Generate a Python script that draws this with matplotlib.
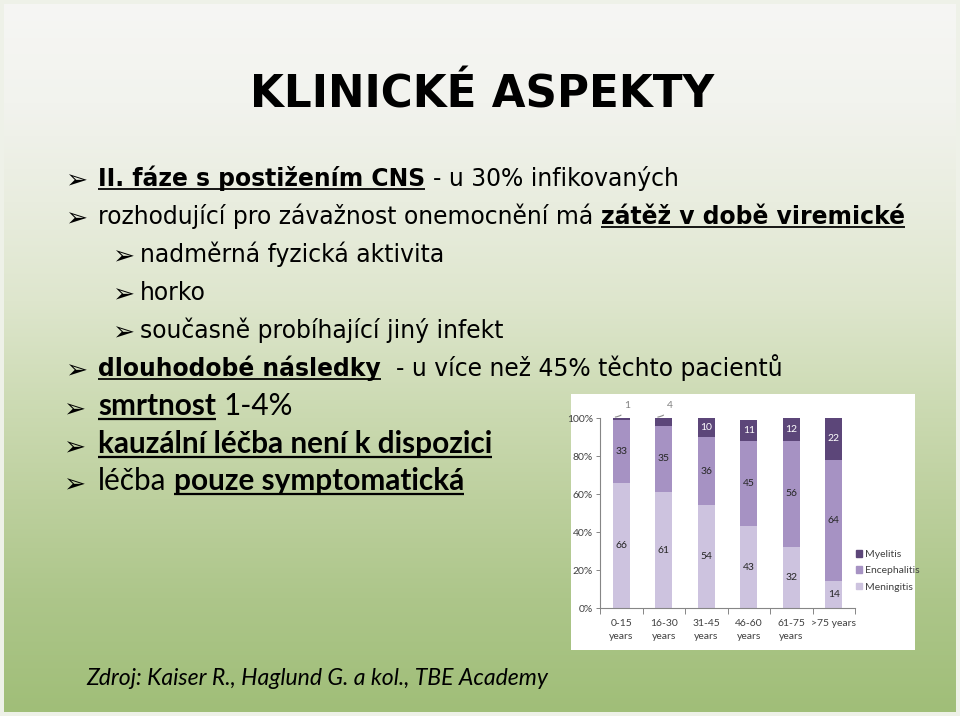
import numpy as np
import matplotlib
matplotlib.use('Agg')
import matplotlib.pyplot as plt
from matplotlib import font_manager
from matplotlib.patches import Rectangle, Patch
from matplotlib.lines import Line2D

# chart data (percent of patients per age group)
age_groups = ['0-15\nyears', '16-30\nyears', '31-45\nyears', '46-60\nyears', '61-75\nyears', '>75 years']
meningitis = [66, 61, 54, 43, 32, 14]
encephalitis = [33, 35, 36, 45, 56, 64]
myelitis = [1, 4, 10, 11, 12, 22]
series_names = ['Meningitis', 'Encephalitis', 'Myelitis']
y_ticks = [0, 20, 40, 60, 80, 100]

# slide text
title = 'KLINICKÉ ASPEKTY'
footer = 'Zdroj: Kaiser R., Haglund G. a kol., TBE Academy'

W, H = 960, 716
fig = plt.figure(figsize=(W / 100, H / 100), dpi=100)
fig.patch.set_facecolor('#eef1e8')
renderer = fig.canvas.get_renderer()

installed = {f.name for f in font_manager.fontManager.ttflist}
body_font = ['DejaVu Sans']
lower_font = ['Lato', 'DejaVu Sans'] if 'Lato' in installed else ['DejaVu Sans']
chart_font = ['Liberation Sans Narrow'] if 'Liberation Sans Narrow' in installed else lower_font


def fx(x):
    return x / W


def fy(y):
    return 1 - y / H


# background gradient, white-grey on top to green at the bottom
bg = fig.add_axes([0, 0, 1, 1], zorder=-2)
bg.set_axis_off()
grad_y = [0, 100, 200, 300, 400, 500, 600, 716]
grad_c = np.array([(246, 246, 244), (242, 243, 238), (233, 237, 223), (222, 230, 205),
                   (205, 219, 180), (189, 208, 158), (173, 198, 138), (160, 190, 120)]) / 255
rows = np.arange(H)
grad = np.stack([np.interp(rows, grad_y, grad_c[:, k]) for k in range(3)], axis=1)
bg.imshow(np.repeat(grad[:, None, :], 2, axis=1), extent=[4, 956, 712, 4], aspect='auto')
bg.set_xlim(0, W)
bg.set_ylim(H, 0)


def measure(s, size, family, weight='normal', style='normal'):
    t = fig.text(0, 0, s, fontsize=size, family=family, weight=weight, style=style)
    w = t.get_window_extent(renderer).width
    t.remove()
    return w


def line_width(segs, size, family, style='normal'):
    total = 0
    for s, bold, ul in segs:
        wt = 'bold' if bold else 'normal'
        n = len(s) - len(s.lstrip(' '))
        sp = measure('n n', size, family, wt, style) - measure('nn', size, family, wt, style)
        total += n * sp + measure(s.strip(), size, family, wt, style)
    return total


def fit_size(segs, width, family, style='normal'):
    return 20 * width / line_width(segs, 20, family, style)


def draw_line(segs, x0, base, size, family, style='normal'):
    x = x0
    for s, bold, ul in segs:
        wt = 'bold' if bold else 'normal'
        n = len(s) - len(s.lstrip(' '))
        sp = measure('n n', size, family, wt, style) - measure('nn', size, family, wt, style)
        x += n * sp
        t = fig.text(fx(x), fy(base), s.strip(), fontsize=size, family=family, weight=wt,
                     style=style, ha='left', va='baseline', color='black')
        w = t.get_window_extent(renderer).width
        if ul:
            size_px = size * 100 / 72
            uy = base + 0.13 * size_px
            fig.add_artist(Line2D([fx(x), fx(x + w)], [fy(uy), fy(uy)], color='black',
                                  lw=size * 0.075, solid_capstyle='butt'))
        x += w


def bullet(x, base, size=19):
    fig.text(fx(x), fy(base + 2), '➢', fontsize=size, family='DejaVu Sans',
             ha='left', va='baseline', color='black')


# title
ts = fit_size([(title, True, False)], 463, body_font)
draw_line([(title, True, False)], 250, 108, ts, body_font)

# upper bullets (Tahoma-like)
line1 = [('II. fáze s postižením CNS', True, True), (' - u 30% infikovaných', False, False)]
line2 = [('rozhodující pro závažnost onemocnění má', False, False), (' zátěž v době viremické', True, True)]
line3 = [('nadměrná fyzická aktivita', False, False)]
line4 = [('horko', False, False)]
line5 = [('současně probíhající jiný infekt', False, False)]
line6 = [('dlouhodobé následky', True, True), ('  - u více než 45% těchto pacientů', False, False)]

bs = np.mean([fit_size(line2, 799, body_font), fit_size(line1, 590, body_font),
              fit_size(line6, 684, body_font)])
for segs, base, x0, bx in [(line1, 186, 98, 65), (line2, 224, 98, 65),
                           (line3, 262, 140, 112), (line4, 300, 140, 112),
                           (line5, 338, 140, 112), (line6, 376, 98, 65)]:
    bullet(bx, base)
    draw_line(segs, x0, base, bs, body_font)

# lower bullets (Calibri-like)
line7 = [('smrtnost', True, True), (' 1-4%', False, False)]
line8 = [('kauzální léčba není k dispozici', True, True)]
line9 = [('léčba', False, False), (' pouze symptomatická', True, True)]
ls = np.mean([fit_size(line8, 401, lower_font), fit_size(line9, 360, lower_font)])
for segs, base in [(line7, 415), (line8, 453), (line9, 490)]:
    bullet(63, base)
    draw_line(segs, 98, base, ls, lower_font)

fs = fit_size([(footer, False, False)], 461, lower_font, style='italic')
draw_line([(footer, False, False)], 86, 685, fs, lower_font, style='italic')

# chart panel
fig.add_artist(Rectangle((fx(571), fy(650)), (915 - 571) / W, (650 - 394) / H,
                         transform=fig.transFigure, facecolor='white', edgecolor='none', zorder=-1))
ax = fig.add_axes([fx(600), fy(608), (855 - 600) / W, (608 - 418) / H], zorder=1)
colors = {'Meningitis': '#cdc3df', 'Encephalitis': '#a692c3', 'Myelitis': '#5c4679'}
xpos = np.arange(len(age_groups))
bottom = np.zeros(len(age_groups))
for name, vals in zip(series_names, [meningitis, encephalitis, myelitis]):
    ax.bar(xpos, vals, 0.4, bottom=bottom, color=colors[name], zorder=2)
    for i, v in enumerate(vals):
        if v >= 5:
            ax.text(i, bottom[i] + v / 2, str(v), ha='center', va='center', fontsize=7.5,
                    family=chart_font, color='white' if name == 'Myelitis' else '#262626')
        else:
            ax.annotate(str(v), xy=(i - 0.14, bottom[i] + v + 0.5), xytext=(i + 0.14, 106.5),
                        ha='center', va='center', fontsize=7.5, family=chart_font, color='#808080',
                        annotation_clip=False,
                        arrowprops=dict(arrowstyle='-', color='#8a8a8a', lw=0.8,
                                        connectionstyle='arc3,rad=-0.35', shrinkA=2.5, shrinkB=0))
    bottom += np.array(vals)

ax.set_xlim(-0.5, len(age_groups) - 0.5)
ax.set_ylim(0, 100)
ax.set_yticks(y_ticks, [f'{v}%' for v in y_ticks])
ax.set_xticks(xpos, age_groups)
ax.set_xticks(np.arange(-0.5, len(age_groups), 1), minor=True)
ax.tick_params(axis='x', which='major', length=0, pad=8, labelsize=7.5, labelcolor='#404040')
ax.tick_params(axis='x', which='minor', length=4, color='#868686', width=0.7)
ax.tick_params(axis='y', length=3, color='#868686', width=0.7, labelsize=7.5, labelcolor='#404040', pad=2)
for lbl in ax.get_xticklabels() + ax.get_yticklabels():
    lbl.set_family(chart_font)
    lbl.set_linespacing(1.6)
for side in ['top', 'right']:
    ax.spines[side].set_visible(False)
for side in ['left', 'bottom']:
    ax.spines[side].set_color('#868686')
    ax.spines[side].set_linewidth(0.8)

handles = [Patch(color=colors[n]) for n in series_names[::-1]]
ax.legend(handles, series_names[::-1], loc='upper left', bbox_to_anchor=(fx(856), fy(550)),
          bbox_transform=fig.transFigure, frameon=False, handlelength=0.6, handleheight=0.6,
          handletextpad=0.3, labelspacing=0.7, borderpad=0, borderaxespad=0,
          prop={'family': chart_font, 'size': 7.5}, labelcolor='#404040')

fig.savefig('out.png', dpi=100, facecolor=fig.get_facecolor())
